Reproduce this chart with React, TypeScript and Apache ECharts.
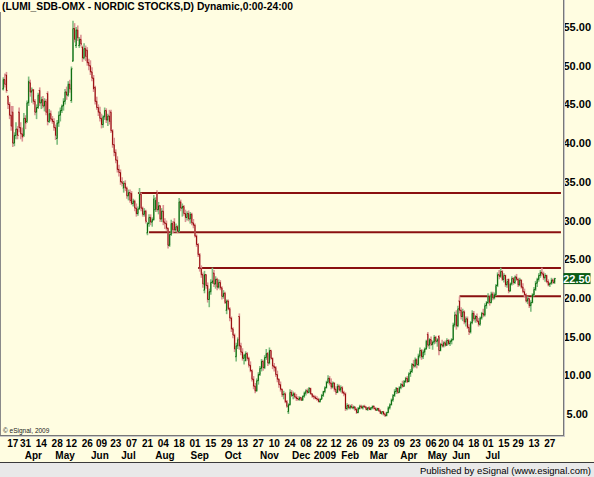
import React, { useEffect, useRef } from "react";
import * as echarts from "echarts";

const TITLE = "(LUMI_SDB-OMX - NORDIC STOCKS,D) Dynamic,0:00-24:00";
const COPYRIGHT = "\u00a9 eSignal, 2009";
const STATUS = "Published by eSignal (www.esignal.com)";

// [day, open, high, low, close]
const MAR08 = [
  [7, 47.0, 48.5, 46.8, 48.2], [10, 48.2, 49.0, 47.2, 47.6], [11, 48.8, 49.2, 46.5, 46.8],
  [12, 46.0, 46.2, 44.4, 45.0], [13, 45.0, 45.3, 43.1, 43.6], [14, 43.6, 44.8, 41.6, 42.2],
  [17, 44.0, 44.8, 39.5, 40.0], [18, 40.0, 41.4, 39.6, 41.0], [19, 41.0, 42.7, 40.5, 41.8],
  [20, 41.8, 42.2, 40.5, 41.0], [25, 44.0, 44.6, 41.4, 42.0], [26, 42.0, 42.7, 40.5, 41.2],
  [27, 41.2, 42.0, 40.2, 40.8], [28, 41.0, 43.9, 40.8, 43.2], [31, 43.2, 43.6, 41.8, 42.6],
];
const APR08 = [
  [1, 42.8, 45.5, 42.6, 45.2], [2, 45.2, 48.6, 44.8, 48.0], [3, 47.8, 48.2, 46.0, 46.6],
  [4, 46.6, 47.2, 45.2, 46.8], [7, 46.9, 47.0, 45.0, 45.4], [8, 45.4, 45.7, 43.6, 44.0],
  [9, 44.0, 45.0, 43.1, 44.6], [10, 44.6, 46.5, 44.4, 46.2], [11, 46.8, 47.2, 44.8, 45.2],
  [14, 45.2, 46.0, 44.4, 45.6], [15, 45.6, 46.1, 44.5, 44.8], [16, 44.8, 45.8, 44.1, 45.4],
  [17, 45.4, 45.7, 43.6, 44.0], [18, 46.4, 46.7, 42.3, 42.8], [21, 42.8, 44.4, 42.6, 43.8],
  [22, 43.8, 44.2, 42.8, 43.1], [23, 43.1, 43.5, 42.5, 42.8], [24, 42.8, 43.2, 41.6, 42.0],
  [25, 42.0, 42.4, 40.4, 41.0], [28, 40.6, 43.0, 39.8, 42.6], [29, 42.6, 44.1, 42.1, 43.6],
  [30, 43.6, 44.6, 42.8, 44.2],
];
const MAY08 = [
  [2, 44.2, 45.0, 43.9, 44.8], [5, 44.8, 45.8, 44.2, 45.4], [6, 45.4, 47.0, 45.0, 46.6],
  [7, 46.6, 47.3, 45.6, 46.2], [8, 46.2, 48.0, 46.0, 47.6], [9, 47.6, 48.2, 46.5, 47.0],
  [12, 45.5, 49.9, 45.2, 49.6], [13, 50.6, 55.8, 50.5, 54.8], [14, 54.8, 55.5, 53.0, 53.4],
  [15, 52.6, 55.0, 52.3, 54.6], [16, 54.6, 55.2, 53.2, 53.6], [19, 52.6, 53.7, 52.3, 53.4],
  [20, 53.4, 54.0, 52.5, 52.8], [21, 52.4, 52.6, 50.5, 51.0], [22, 51.0, 52.9, 50.8, 52.2],
  [23, 52.2, 52.6, 50.6, 51.2], [26, 52.0, 52.4, 50.0, 50.4], [27, 50.4, 50.9, 49.4, 50.0],
  [28, 50.0, 50.7, 48.8, 49.2], [29, 49.2, 49.8, 48.0, 48.4], [30, 48.4, 48.8, 46.6, 47.0],
];
const JUN08 = [
  [2, 47.2, 47.4, 45.0, 45.4], [3, 45.4, 46.0, 44.3, 44.6], [4, 44.6, 45.0, 43.5, 44.0],
  [5, 44.0, 44.7, 42.8, 43.2], [9, 43.2, 43.8, 41.9, 42.4], [10, 42.4, 43.6, 42.0, 43.4],
  [11, 43.4, 44.6, 43.0, 44.2], [12, 44.2, 44.5, 42.6, 43.0], [13, 43.0, 43.8, 42.2, 43.5],
  [16, 43.5, 44.3, 42.4, 42.8], [17, 44.0, 44.3, 41.3, 41.6], [18, 41.6, 41.8, 39.4, 39.8],
  [19, 39.8, 40.7, 38.3, 38.8], [23, 38.8, 39.2, 37.4, 37.8], [24, 37.8, 38.3, 36.2, 36.6],
  [25, 36.6, 37.2, 35.7, 36.2], [26, 36.2, 36.6, 34.6, 35.0], [27, 35.0, 35.6, 34.4, 34.8],
  [30, 34.2, 35.1, 33.6, 34.8],
];
const JUL08 = [
  [1, 34.8, 35.2, 33.8, 34.2], [2, 34.2, 34.4, 32.8, 33.2], [3, 33.2, 34.0, 32.6, 33.6],
  [4, 33.6, 34.0, 32.3, 32.6], [7, 33.5, 33.8, 32.0, 32.2], [8, 32.2, 32.8, 31.8, 32.5],
  [9, 32.5, 32.7, 31.2, 31.6], [10, 31.6, 32.2, 30.5, 30.9], [11, 30.9, 31.8, 30.6, 31.5],
  [14, 31.5, 34.2, 31.4, 33.4], [15, 33.4, 33.6, 31.2, 31.6], [16, 31.6, 31.8, 30.5, 30.8],
  [17, 30.8, 31.6, 30.5, 31.2], [18, 31.2, 31.4, 29.6, 29.9], [21, 28.4, 29.8, 28.1, 29.6],
  [22, 29.6, 30.8, 29.2, 30.4], [23, 30.4, 30.8, 29.4, 29.8], [24, 29.8, 30.4, 29.2, 30.1],
  [25, 30.1, 33.3, 30.0, 32.8], [28, 31.4, 33.0, 31.1, 32.6], [29, 33.6, 33.9, 31.1, 31.4],
  [30, 31.4, 32.4, 30.8, 31.9], [31, 31.9, 32.0, 29.8, 30.2],
];
const AUG08 = [
  [1, 30.2, 31.6, 29.8, 31.2], [4, 31.2, 32.0, 29.4, 29.8], [5, 29.8, 30.3, 28.9, 29.6],
  [6, 29.6, 30.0, 28.7, 29.0], [7, 29.0, 29.1, 26.4, 26.8], [8, 26.8, 28.4, 26.6, 28.2],
  [11, 28.2, 30.1, 28.0, 29.6], [12, 29.6, 29.9, 28.4, 28.8], [13, 29.8, 30.3, 28.5, 28.8],
  [14, 28.8, 29.6, 28.5, 29.2], [15, 29.2, 29.4, 28.4, 28.6], [18, 28.6, 32.9, 28.5, 32.4],
  [19, 32.4, 32.7, 31.2, 31.6], [20, 31.6, 32.2, 30.5, 31.8], [21, 31.8, 32.0, 30.6, 30.9],
  [22, 30.9, 31.4, 29.8, 30.4], [25, 30.4, 31.2, 30.0, 30.9], [26, 30.9, 31.3, 29.9, 30.2],
  [27, 30.2, 31.1, 29.6, 30.8], [28, 30.8, 31.0, 29.4, 29.7], [29, 29.7, 30.2, 29.0, 29.4],
];
const SEP08 = [
  [1, 29.4, 29.6, 27.8, 28.0], [2, 28.0, 28.2, 26.6, 26.9], [3, 26.9, 27.1, 25.3, 25.6],
  [4, 25.6, 25.8, 23.4, 23.8], [5, 23.8, 24.2, 22.6, 23.0], [8, 23.0, 23.3, 21.3, 21.8],
  [9, 21.0, 23.5, 20.6, 23.0], [10, 23.0, 23.1, 21.2, 21.6], [11, 21.6, 22.0, 19.4, 19.8],
  [12, 19.8, 21.2, 18.8, 20.8], [15, 20.8, 22.4, 20.4, 22.0], [16, 22.0, 23.9, 21.8, 22.2],
  [17, 23.2, 23.6, 21.4, 21.8], [18, 21.8, 22.8, 21.2, 22.4], [19, 22.4, 22.6, 21.0, 21.4],
  [22, 21.4, 22.4, 21.2, 22.0], [23, 22.0, 22.3, 21.0, 21.3], [24, 21.3, 21.5, 19.8, 20.2],
  [25, 20.2, 21.0, 19.9, 20.6], [26, 20.6, 20.8, 19.2, 19.4], [29, 18.4, 19.8, 17.9, 19.6],
  [30, 19.6, 19.8, 18.4, 18.6],
];
const OCT08 = [
  [1, 18.6, 18.8, 17.0, 17.4], [2, 17.4, 17.6, 15.6, 16.0], [3, 16.0, 16.2, 14.8, 15.2],
  [6, 15.2, 15.4, 13.0, 13.4], [7, 12.4, 14.2, 11.8, 13.8], [8, 13.8, 14.9, 13.4, 14.6],
  [9, 17.6, 18.0, 13.3, 13.8], [10, 13.8, 14.2, 12.6, 13.0], [13, 13.0, 13.5, 11.9, 12.2],
  [14, 12.2, 12.8, 11.4, 12.6], [15, 11.9, 13.1, 11.8, 12.8], [16, 12.8, 13.0, 11.9, 12.2],
  [17, 12.2, 12.4, 11.0, 11.3], [20, 11.3, 11.8, 10.4, 10.6], [21, 10.6, 10.8, 9.2, 9.5],
  [22, 9.5, 9.9, 8.2, 8.6], [23, 8.6, 9.0, 7.7, 8.0], [24, 8.0, 9.6, 7.9, 9.3],
  [27, 9.3, 10.4, 8.8, 10.1], [28, 10.1, 11.2, 9.9, 10.9], [29, 10.9, 12.1, 10.5, 11.8],
  [30, 11.8, 12.0, 10.6, 11.0], [31, 11.0, 12.6, 10.8, 12.3],
];
const NOV08 = [
  [3, 12.3, 13.4, 12.0, 12.8], [4, 12.8, 13.0, 11.2, 11.6], [5, 11.6, 13.6, 11.4, 13.2],
  [6, 13.2, 13.3, 12.0, 12.2], [7, 12.2, 12.3, 10.8, 11.2], [10, 11.2, 11.6, 10.5, 11.0],
  [11, 11.0, 11.2, 9.8, 10.1], [12, 10.1, 10.6, 9.1, 9.5], [13, 9.5, 9.6, 8.4, 8.8],
  [14, 8.8, 9.2, 7.9, 8.2], [17, 8.2, 8.3, 7.2, 7.5], [18, 7.5, 8.0, 6.9, 7.6],
  [19, 7.6, 7.8, 6.4, 6.6], [20, 6.6, 6.8, 5.8, 6.0], [21, 5.3, 6.4, 5.0, 6.2],
  [24, 6.2, 8.2, 6.1, 7.8], [25, 7.8, 8.1, 7.2, 7.4], [26, 7.4, 7.9, 6.9, 7.6],
  [27, 7.6, 7.8, 7.0, 7.2], [28, 7.2, 7.6, 6.7, 7.0],
];
const DEC08 = [
  [1, 7.0, 7.3, 6.7, 6.9], [2, 6.9, 7.3, 6.7, 7.1], [3, 7.1, 7.2, 6.7, 6.8],
  [4, 6.8, 7.4, 6.7, 7.3], [5, 7.3, 7.9, 7.1, 7.7], [8, 7.7, 8.2, 7.4, 8.0],
  [9, 8.0, 8.3, 7.6, 7.8], [10, 7.8, 8.5, 7.7, 8.3], [11, 8.3, 8.4, 7.5, 7.6],
  [12, 7.6, 7.7, 7.1, 7.3], [15, 7.3, 7.5, 6.9, 7.2], [16, 7.2, 7.4, 6.9, 7.0],
  [17, 7.0, 7.3, 6.7, 6.9], [18, 6.9, 7.1, 6.5, 6.6], [19, 6.6, 7.0, 6.5, 6.9],
  [22, 6.9, 7.6, 6.9, 7.4], [23, 7.4, 8.0, 7.2, 7.9], [29, 7.9, 8.6, 7.7, 8.4],
  [30, 8.4, 9.3, 8.3, 9.1],
];
const JAN09 = [
  [2, 9.1, 10.0, 8.9, 9.6], [5, 9.6, 9.9, 8.7, 9.0], [7, 9.0, 9.6, 8.2, 8.5],
  [8, 8.5, 9.2, 8.3, 9.0], [9, 9.0, 9.1, 7.9, 8.2], [12, 8.2, 8.6, 7.5, 7.8],
  [13, 7.8, 8.9, 7.7, 8.6], [14, 8.6, 8.8, 7.9, 8.1], [15, 8.1, 8.7, 7.8, 8.4],
  [16, 8.4, 8.6, 7.6, 7.8], [19, 7.8, 8.0, 7.3, 7.6], [20, 7.6, 7.8, 5.4, 5.7],
  [21, 5.7, 6.4, 5.5, 6.1], [22, 6.1, 6.3, 5.6, 5.8], [23, 5.8, 6.2, 5.6, 6.0],
  [26, 6.0, 6.3, 5.7, 5.8], [27, 5.8, 6.1, 5.6, 5.9], [28, 5.9, 6.0, 5.4, 5.6],
  [29, 5.6, 5.8, 5.0, 5.2], [30, 5.2, 5.9, 5.1, 5.7],
];
const FEB09 = [
  [2, 5.7, 6.2, 5.6, 6.0], [3, 6.0, 6.2, 5.7, 5.8], [4, 5.8, 6.1, 5.6, 6.0],
  [5, 6.0, 6.2, 5.8, 5.9], [6, 5.9, 6.0, 5.5, 5.6], [9, 5.6, 5.9, 5.4, 5.8],
  [10, 5.8, 6.0, 5.5, 5.6], [11, 5.6, 5.9, 5.5, 5.8], [12, 5.8, 6.1, 5.6, 6.0],
  [13, 6.0, 6.1, 5.6, 5.7], [16, 5.7, 5.9, 5.4, 5.5], [17, 5.5, 5.8, 5.4, 5.7],
  [18, 5.7, 5.8, 5.3, 5.4], [19, 5.4, 5.6, 5.0, 5.1], [20, 5.1, 5.4, 4.9, 5.3],
  [23, 5.3, 5.4, 4.8, 5.0], [24, 5.0, 5.2, 4.6, 4.8], [25, 4.8, 5.3, 4.7, 5.2],
  [26, 5.2, 6.0, 5.1, 5.8], [27, 5.8, 6.4, 5.6, 6.2],
];
const MAR09 = [
  [2, 6.2, 7.0, 6.1, 6.8], [3, 6.8, 7.6, 6.6, 7.4], [4, 7.4, 8.2, 7.2, 7.9],
  [5, 7.9, 8.5, 7.6, 8.3], [6, 8.3, 8.4, 7.6, 7.8], [9, 7.8, 8.6, 7.7, 8.4],
  [10, 8.4, 9.0, 8.2, 8.8], [11, 8.8, 9.3, 8.4, 8.6], [12, 8.6, 9.4, 8.5, 9.2],
  [13, 9.2, 9.8, 9.0, 9.6], [16, 9.6, 9.9, 9.0, 9.2], [17, 9.2, 10.4, 9.1, 10.2],
  [18, 10.2, 10.8, 9.8, 10.5], [19, 10.5, 11.6, 10.3, 11.4], [20, 11.4, 12.0, 10.9, 11.2],
  [23, 11.2, 12.3, 11.0, 12.0], [24, 12.0, 12.2, 10.9, 11.4], [25, 11.4, 12.8, 11.2, 12.5],
  [26, 12.5, 13.6, 12.2, 13.2], [27, 13.2, 13.4, 12.0, 12.4], [30, 12.4, 13.3, 12.1, 13.0],
  [31, 13.0, 13.6, 12.6, 13.4],
];
const APR09 = [
  [1, 13.4, 14.6, 13.3, 14.4], [2, 15.3, 15.6, 13.6, 13.9], [3, 13.9, 14.8, 13.4, 14.6],
  [6, 14.6, 15.0, 13.8, 14.0], [7, 14.0, 14.5, 13.3, 14.3], [8, 14.3, 15.2, 14.0, 14.9],
  [9, 14.9, 15.1, 14.1, 14.4], [14, 14.4, 14.8, 13.7, 14.6], [15, 15.0, 15.2, 12.6, 13.2],
  [16, 13.2, 14.2, 13.1, 14.0], [17, 14.0, 14.6, 13.6, 13.8], [20, 13.8, 14.4, 13.6, 14.2],
  [21, 14.2, 14.5, 13.7, 13.9], [22, 13.9, 14.8, 13.8, 14.5], [23, 14.5, 14.7, 13.9, 14.1],
  [24, 14.1, 14.6, 13.8, 14.4], [27, 14.4, 14.8, 14.0, 14.6], [28, 14.6, 16.8, 14.5, 16.5],
  [29, 16.5, 18.2, 16.2, 17.8], [30, 17.8, 18.4, 15.9, 16.4],
];
const MAY09 = [
  [4, 16.4, 19.0, 16.2, 18.6], [5, 19.6, 20.2, 18.0, 18.4], [6, 18.4, 18.8, 17.2, 17.6],
  [7, 17.6, 18.6, 17.0, 18.2], [8, 18.2, 18.4, 16.6, 16.9], [11, 16.9, 17.6, 16.3, 17.3],
  [12, 17.3, 17.6, 16.0, 16.2], [13, 16.2, 16.6, 15.2, 15.6], [14, 15.6, 17.0, 15.4, 16.8],
  [15, 16.8, 18.4, 16.6, 18.0], [18, 18.0, 18.3, 17.0, 17.3], [19, 17.3, 17.8, 16.8, 17.6],
  [20, 17.6, 18.0, 16.8, 17.0], [22, 17.0, 17.4, 16.3, 16.6], [25, 16.6, 17.6, 16.4, 17.4],
  [26, 17.4, 18.2, 17.2, 18.0], [27, 18.0, 18.6, 17.5, 17.8], [28, 17.8, 19.3, 17.6, 19.0],
  [29, 19.0, 19.6, 18.6, 19.4],
];
const JUN09 = [
  [1, 19.4, 20.6, 19.2, 20.2], [2, 20.2, 20.4, 19.0, 19.4], [3, 19.4, 20.8, 19.3, 20.5],
  [4, 20.5, 20.8, 19.7, 20.0], [5, 20.0, 20.7, 19.8, 20.4], [8, 20.4, 21.8, 20.3, 21.6],
  [9, 21.6, 23.3, 21.4, 23.0], [10, 23.0, 23.6, 22.4, 22.8], [11, 22.8, 23.9, 22.6, 23.4],
  [12, 23.4, 23.6, 22.2, 22.4], [15, 22.4, 23.2, 22.0, 22.9], [16, 22.9, 23.0, 21.4, 21.7],
  [17, 21.7, 22.4, 21.3, 22.1], [18, 22.4, 22.5, 20.6, 20.9], [22, 20.9, 22.0, 20.8, 21.8],
  [23, 21.8, 22.8, 21.6, 22.5], [24, 22.5, 22.7, 21.7, 22.0], [25, 22.0, 22.9, 21.8, 22.7],
  [26, 22.7, 23.1, 22.2, 22.4], [29, 22.4, 22.6, 21.4, 21.7], [30, 21.7, 22.6, 21.5, 22.3],
];
const JUL09 = [
  [1, 22.3, 22.4, 21.2, 21.4], [2, 21.4, 21.9, 20.6, 20.8], [3, 20.8, 21.2, 20.1, 20.4],
  [6, 20.4, 20.6, 19.4, 19.6], [7, 19.6, 20.2, 19.2, 19.9], [8, 19.9, 20.0, 18.7, 19.0],
  [9, 19.0, 19.7, 18.2, 19.4], [10, 19.4, 20.6, 19.3, 20.4], [13, 20.4, 21.4, 20.2, 21.1],
  [14, 21.1, 22.2, 20.9, 21.9], [15, 21.9, 22.6, 21.4, 22.4], [16, 22.4, 23.2, 22.1, 22.9],
  [17, 22.9, 23.6, 22.6, 23.3], [20, 23.3, 23.9, 22.8, 23.1], [21, 23.1, 23.4, 22.3, 22.6],
  [22, 22.6, 23.2, 22.1, 22.9], [23, 22.9, 23.0, 21.9, 22.1], [24, 22.1, 22.4, 21.5, 21.7],
  [27, 21.7, 22.0, 21.4, 21.9], [28, 21.9, 22.6, 21.7, 22.3], [29, 22.3, 22.5, 21.8, 22.0],
  [30, 22.0, 22.6, 21.8, 22.5],
];

const MONTHS = [
  { y: 2008, m: 3, bars: MAR08 }, { y: 2008, m: 4, bars: APR08 }, { y: 2008, m: 5, bars: MAY08 },
  { y: 2008, m: 6, bars: JUN08 }, { y: 2008, m: 7, bars: JUL08 }, { y: 2008, m: 8, bars: AUG08 },
  { y: 2008, m: 9, bars: SEP08 }, { y: 2008, m: 10, bars: OCT08 }, { y: 2008, m: 11, bars: NOV08 },
  { y: 2008, m: 12, bars: DEC08 }, { y: 2009, m: 1, bars: JAN09 }, { y: 2009, m: 2, bars: FEB09 },
  { y: 2009, m: 3, bars: MAR09 }, { y: 2009, m: 4, bars: APR09 }, { y: 2009, m: 5, bars: MAY09 },
  { y: 2009, m: 6, bars: JUN09 }, { y: 2009, m: 7, bars: JUL09 },
];

// empty slots to the right of the last bar
const PAD_DATES = ["2009-07-31", "2009-08-03", "2009-08-04", "2009-08-05"];

const DAY_TICKS = [
  "2008-03-17", "2008-03-31", "2008-04-14", "2008-04-28", "2008-05-12", "2008-05-26",
  "2008-06-09", "2008-06-23", "2008-07-07", "2008-07-21", "2008-08-04", "2008-08-18",
  "2008-09-01", "2008-09-15", "2008-09-29", "2008-10-13", "2008-10-27", "2008-11-10",
  "2008-11-24", "2008-12-08", "2008-12-22", "2009-01-12", "2009-01-26", "2009-02-09",
  "2009-02-23", "2009-03-09", "2009-03-23", "2009-04-06", "2009-04-20", "2009-05-04",
  "2009-05-18", "2009-06-01", "2009-06-15", "2009-06-29", "2009-07-13", "2009-07-27",
];
const MONTH_TICK_DATES = [
  "2008-04-07", "2008-05-06", "2008-06-05", "2008-07-03", "2008-08-05", "2008-09-04",
  "2008-10-03", "2008-11-05", "2008-12-03", "2008-12-29", "2009-01-23", "2009-02-18",
  "2009-03-17", "2009-04-14", "2009-05-06", "2009-06-04",
];
const MONTH_TICK_TEXT = [
  "Apr", "May", "Jun", "Jul", "Aug", "Sep", "Oct", "Nov", "Dec", "2009", "Feb", "Mar",
  "Apr", "May", "Jun", "Jul",
];
const PRICE_TICKS = [5, 10, 15, 20, 25, 30, 35, 40, 45, 50, 55];
const LEVELS = [33.55, 28.5, 23.85, 20.2];
const LEVEL_FROM = ["2008-07-11", "2008-07-22", "2008-09-03", "2009-05-05"];
const Y_MIN = 2.29;
const Y_MAX = 58.49;

const FONT = "'Liberation Sans', Arial, sans-serif";
const BG = "#FFFDE1";

export default function App() {
  const ref = useRef<HTMLDivElement | null>(null);

  useEffect(() => {
    if (!ref.current) return;
    const chart = echarts.init(ref.current, undefined, { renderer: "svg" });

    const pad = (n: number) => String(n).padStart(2, "0");
    const dates: string[] = [];
    const ohlc: number[][] = [];
    MONTHS.forEach(({ y, m, bars }) => {
      bars.forEach((b) => {
        ohlc.push([dates.length, b[1], b[2], b[3], b[4]]);
        dates.push(`${y}-${pad(m)}-${pad(b[0])}`);
      });
    });
    const categories = dates.concat(PAD_DATES);
    const lastDate = categories[categories.length - 1];
    const lastClose = ohlc[ohlc.length - 1][4];
    const daySet = new Set(DAY_TICKS);
    const monthMap = new Map<string, string>();
    MONTH_TICK_DATES.forEach((d, k) => monthMap.set(d, MONTH_TICK_TEXT[k]));

    const labelBase = { fontFamily: FONT, fontWeight: "bold" as const, color: "#000" };

    const option: any = {
      animation: false,
      backgroundColor: BG,
      grid: { left: 2.5, right: 31, top: 0, bottom: 42, containLabel: false },
      xAxis: [
        {
          type: "category",
          data: categories,
          boundaryGap: true,
          position: "bottom",
          axisLine: { show: false },
          axisTick: { show: false },
          splitLine: { show: false },
          axisLabel: {
            ...labelBase,
            fontSize: 10,
            margin: 3.5,
            interval: (_i: number, v: string) => daySet.has(v),
            formatter: (v: string) => v.slice(8),
          },
        },
        {
          type: "category",
          data: categories,
          boundaryGap: true,
          position: "bottom",
          offset: 11.5,
          axisLine: { show: false },
          axisTick: { show: false },
          splitLine: { show: false },
          axisLabel: {
            ...labelBase,
            fontSize: 10,
            margin: 3.5,
            interval: (_i: number, v: string) => monthMap.has(v),
            formatter: (v: string) => monthMap.get(v) || "",
          },
        },
      ],
      yAxis: {
        type: "value",
        position: "right",
        min: Y_MIN,
        max: Y_MAX,
        axisLine: { show: false },
        axisTick: { show: false },
        splitLine: { show: false },
        axisLabel: {
          ...labelBase,
          fontSize: 11,
          align: "center",
          margin: 15.5,
          customValues: PRICE_TICKS,
          formatter: (v: number) => v.toFixed(2),
        },
      },
      series: [
        ...LEVELS.map((lv, k) => ({
          type: "line",
          xAxisIndex: 0,
          yAxisIndex: 0,
          data: [[LEVEL_FROM[k], lv], [lastDate, lv]],
          symbol: "none",
          silent: true,
          lineStyle: { color: "#8A1010", width: 2 },
          z: 3,
        })),
        {
          type: "custom",
          xAxisIndex: 0,
          yAxisIndex: 0,
          data: ohlc,
          encode: { x: 0, y: [1, 2, 3, 4] },
          clip: true,
          z: 4,
          renderItem: (_params: any, api: any) => {
            const idx = api.value(0);
            const o = api.value(1);
            const h = api.value(2);
            const l = api.value(3);
            const c = api.value(4);
            const up = c >= o;
            const pH = api.coord([idx, h]);
            const pL = api.coord([idx, l]);
            const pO = api.coord([idx, o]);
            const pC = api.coord([idx, c]);
            const x = pH[0];
            const dark = up ? "#086808" : "#960808";
            const light = up ? "#7FBC7F" : "#DC9494";
            return {
              type: "group",
              children: [
                { type: "line", shape: { x1: x, y1: pH[1], x2: x, y2: pL[1] }, style: { stroke: light, lineWidth: 1.6 } },
                { type: "line", shape: { x1: x, y1: pO[1], x2: x, y2: pC[1] }, style: { stroke: dark, lineWidth: 1 } },
                { type: "line", shape: { x1: x - 1, y1: pO[1], x2: x, y2: pO[1] }, style: { stroke: dark, lineWidth: 1 } },
                { type: "line", shape: { x1: x, y1: pC[1], x2: x + 1, y2: pC[1] }, style: { stroke: dark, lineWidth: 1 } },
              ],
            };
          },
        },
      ],
    };

    chart.setOption(option);

    const yLast = chart.convertToPixel({ yAxisIndex: 0 }, lastClose) as number;

    const graphic = [
      { id: "bar", type: "rect", shape: { x: 0, y: 463, width: 594, height: 14 }, style: { fill: "#E9E9E9" }, z: 10 },
      { id: "barline", type: "line", shape: { x1: 0, y1: 462.5, x2: 594, y2: 462.5 }, style: { stroke: "#3A3A3A", lineWidth: 1 }, z: 11 },
      { id: "status", type: "text", x: 591, y: 470, style: { text: STATUS, fill: "#000", font: `9.5px ${FONT}`, align: "right", verticalAlign: "middle" }, z: 12 },
      { id: "fl", type: "line", shape: { x1: 0.5, y1: 12, x2: 0.5, y2: 435 }, style: { stroke: "#8A8A8A", lineWidth: 1 }, z: 10 },
      { id: "fr", type: "line", shape: { x1: 563.5, y1: 0, x2: 563.5, y2: 435.5 }, style: { stroke: "#777", lineWidth: 1 }, z: 10 },
      { id: "fr2", type: "line", shape: { x1: 564.5, y1: 0, x2: 564.5, y2: 436.5 }, style: { stroke: "#C8C8C8", lineWidth: 1 }, z: 10 },
      { id: "fb", type: "line", shape: { x1: 0, y1: 435.5, x2: 564, y2: 435.5 }, style: { stroke: "#777", lineWidth: 1 }, z: 10 },
      { id: "fb2", type: "line", shape: { x1: 0, y1: 436.5, x2: 565, y2: 436.5 }, style: { stroke: "#C8C8C8", lineWidth: 1 }, z: 10 },
      { id: "title", type: "text", x: 2, y: 1.5, style: { text: TITLE, fill: "#000", font: `bold 10.3px ${FONT}`, align: "left", verticalAlign: "top" }, z: 12 },
      { id: "copy", type: "text", x: 3, y: 430, style: { text: COPYRIGHT, fill: "#222", font: `6.5px ${FONT}`, align: "left", verticalAlign: "middle" }, z: 12 },
      { id: "pbox", type: "rect", shape: { x: 563.5, y: yLast - 5.5, width: 27, height: 11 }, style: { fill: "#0A5C14" }, z: 12 },
      { id: "ptxt", type: "text", x: 577, y: yLast + 0.5, style: { text: lastClose.toFixed(2), fill: "#fff", font: `bold 11px ${FONT}`, align: "center", verticalAlign: "middle" }, z: 13 },
    ];
    chart.setOption({ graphic });

    return () => chart.dispose();
  }, []);

  return (
    <div
      ref={ref}
      style={{ position: "fixed", left: 0, top: 0, width: 594, height: 477 }}
    />
  );
}
